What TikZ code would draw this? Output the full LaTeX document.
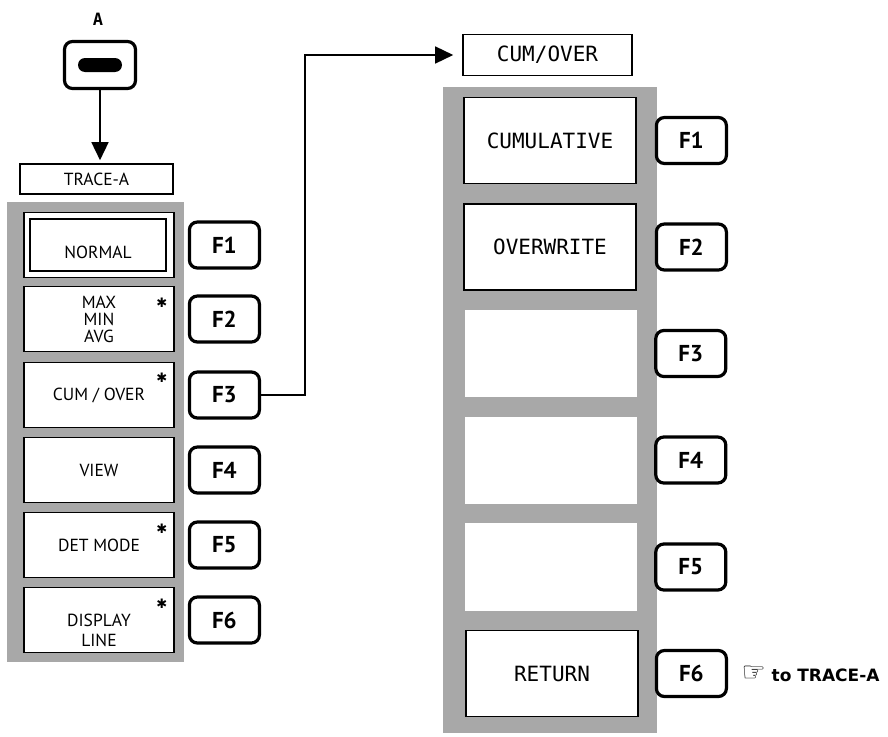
\documentclass[tikz,border=0pt]{standalone}
\usepackage{fontspec}
\setmainfont{PT Sans}
\newfontfamily\monofont{DejaVu Sans Mono}
\newfontfamily\symfont{DejaVu Sans}
\usepackage{tikz}
\usetikzlibrary{positioning,arrows.meta}
\definecolor{screen}{gray}{0.66}
\tikzset{
  menu/.style={draw,line width=1.6pt,fill=white,minimum width=150pt,minimum height=65pt,align=center,font=\fontsize{17.5}{17}\selectfont,inner sep=0pt},
  slot/.style={fill=white,minimum width=172pt,minimum height=86pt,align=center,font=\monofont\fontsize{21}{22}\selectfont,inner sep=0pt},
  fkey/.style={draw,line width=3.2pt,rounded corners=8pt,fill=white,minimum width=70pt,minimum height=46pt,font=\bfseries\fontsize{23}{24}\selectfont,inner sep=0pt},
  title/.style={draw,line width=1.6pt,fill=white,inner sep=0pt},
  star/.style={font=\symfont\fontsize{13}{13}\selectfont,inner sep=0pt},
  ar/.style={-{Triangle[length=18pt,width=17pt]},line width=1.5pt},
}
\begin{document}
\begin{tikzpicture}[x=1pt,y=-1pt]
  \useasboundingbox (0,0) rectangle (888,736);
  % key A and the TRACE-A menu
  \node[font=\monofont\bfseries\fontsize{17}{17}\selectfont] (lblA) at (98,19) {A};
  \node[draw,line width=3.2pt,rounded corners=8pt,minimum width=71pt,minimum height=47pt] (keyA) at (100,65) {};
  \node[fill=black,rounded corners=7pt,minimum width=44pt,minimum height=14pt,inner sep=0pt] (pill) at (keyA) {};
  \node[title,minimum width=153pt,minimum height=30pt,font=\fontsize{17.5}{17}\selectfont] (trA) at (96.5,179) {TRACE-A};
  \draw[ar,shorten >=3pt] (keyA.south) -- (keyA.south |- trA.north);

  \fill[screen] (7,202) rectangle (184,662);
  \node[menu] (m1) at (99,245) {};
  \node[draw,line width=1.6pt,minimum width=136pt,minimum height=52pt] (m1in) at (98,245) {};
  \node[font=\fontsize{17.5}{17}\selectfont] (m1txt) at (98,252) {NORMAL};
  \node[menu] (m2) at (99,319) {MAX\\MIN\\AVG};
  \node[menu] (m3) at (99,395) {CUM / OVER};
  \node[menu] (m4) at (99,470) {VIEW};
  \node[menu] (m5) at (99,545) {DET MODE};
  \node[menu] (m6) at (99,620) {};
  \node[align=center,font=\fontsize{17.5}{20}\selectfont] (m6txt) at (99,630) {DISPLAY\\LINE};
  \node[star] (s2) at ([xshift=-13pt,yshift=-17pt]m2.north east) {✱};
  \node[star] (s3) at ([xshift=-13pt,yshift=-16pt]m3.north east) {✱};
  \node[star] (s5) at ([xshift=-13pt,yshift=-17pt]m5.north east) {✱};
  \node[star] (s6) at ([xshift=-13pt,yshift=-17pt]m6.north east) {✱};

  \node[fkey,right=13pt of m1] (lf1) {F1};
  \node[fkey,right=13pt of m2] (lf2) {F2};
  \node[fkey,right=13pt of m3] (lf3) {F3};
  \node[fkey,right=13pt of m4] (lf4) {F4};
  \node[fkey,right=13pt of m5] (lf5) {F5};
  \node[fkey,right=13pt of m6] (lf6) {F6};

  % CUM/OVER menu
  \node[title,minimum width=169pt,minimum height=41pt,font=\monofont\fontsize{21}{20}\selectfont] (hdr) at (547.5,55) {CUM/OVER};
  \fill[screen] (443,87) rectangle (657,733);
  \node[slot,draw,line width=1.6pt] (r1) at (550,140.5) {CUMULATIVE};
  \node[slot,draw,line width=1.6pt] (r2) at (550,247) {OVERWRITE};
  \node[slot,minimum height=87pt] (r3) at (551,353.5) {};
  \node[slot,minimum height=87pt] (r4) at (551,460) {};
  \node[slot,minimum height=88pt] (r5) at (551,567) {};
  \node[slot,draw,line width=1.6pt] (r6) at (552,673.5) {RETURN};

  \node[fkey,right=18pt of r1] (rf1) {F1};
  \node[fkey,right=18pt of r2] (rf2) {F2};
  \node[fkey,right=17pt of r3] (rf3) {F3};
  \node[fkey,right=17pt of r4] (rf4) {F4};
  \node[fkey,right=17pt of r5] (rf5) {F5};
  \node[fkey,right=16pt of r6] (rf6) {F6};
  \node[font=\symfont\bfseries\fontsize{17}{17}\selectfont,right=10pt of rf6] (back) {{\fontsize{27}{27}\selectfont ☞} to TRACE-A};

  \draw[ar,shorten >=9pt] (lf3.east) -- ++(44,0) |- (hdr.west);
\end{tikzpicture}
\end{document}
